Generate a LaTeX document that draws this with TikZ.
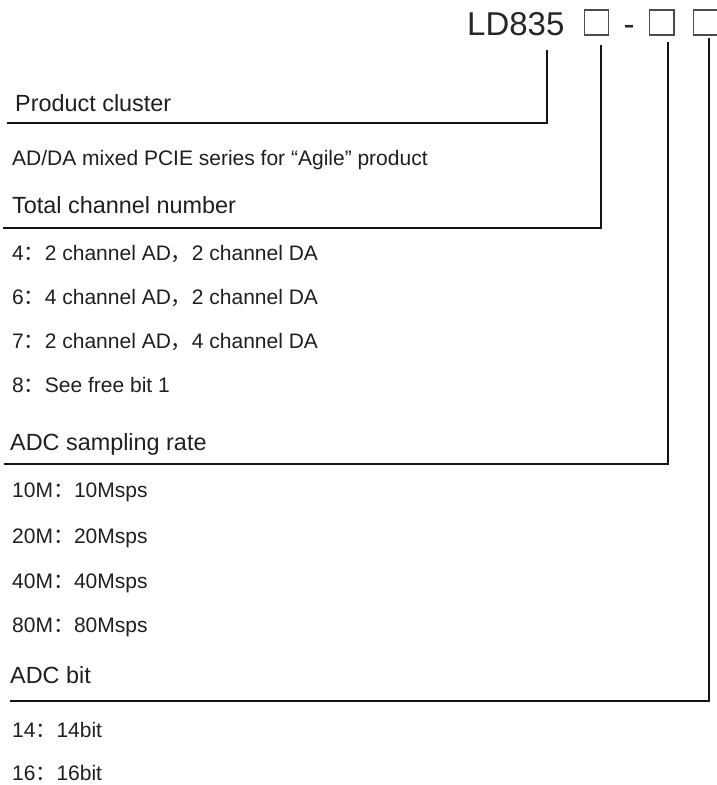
\documentclass[tikz,border=0pt]{standalone}
\usepackage{fontspec}
\setmainfont{Liberation Sans}
\newfontfamily\cjkfont{Noto Sans CJK SC}
\newcommand{\fwcolon}{{\cjkfont ：}}
\newcommand{\fwcomma}{{\cjkfont ，}}
\tikzset{
  head/.style={anchor=base west, inner sep=0pt, text=black!88, font=\fontsize{23.4pt}{28pt}\selectfont},
  item/.style={anchor=base west, inner sep=0pt, text=black!88, font=\fontsize{21pt}{25pt}\selectfont},
  titletext/.style={anchor=base west, inner sep=0pt, text=black!85, font=\fontsize{33pt}{38pt}\selectfont},
  codebox/.style={draw=black!70, line width=1.3pt, minimum width=24.3pt, minimum height=25pt, inner sep=0pt},
  conn/.style={draw=black!92, line width=2pt},
}
\begin{document}
\begin{tikzpicture}[x=1pt,y=-1pt]
\useasboundingbox (0,0) rectangle (717,785);
% title code
\node[titletext] (t) at (467,35) {LD835};
\node[codebox] (b1) at (596.3,22.5) {};
\node[titletext, anchor=base] (dash) at (629,35) {-};
\node[codebox] (b2) at (661.8,22.5) {};
\node[codebox] (b3) at (705.8,22.5) {};
% headings and items
\node[head] (h1) at (15,111) {Product cluster};
\node[item] (i0) at (12,165) {AD/DA mixed PCIE series for “Agile” product};
\node[head] (h2) at (12,213) {Total channel number};
\node[item] (i1) at (12,260) {4\fwcolon 2 channel AD\fwcomma 2 channel DA};
\node[item] (i2) at (12,304.5) {6\fwcolon 4 channel AD\fwcomma 2 channel DA};
\node[item] (i3) at (12,348.5) {7\fwcolon 2 channel AD\fwcomma 4 channel DA};
\node[item] (i4) at (12,392.5) {8\fwcolon See free bit 1};
\node[head] (h3) at (10,450.5) {ADC sampling rate};
\node[item] (i5) at (12,497) {10M\fwcolon 10Msps};
\node[item] (i6) at (12,543) {20M\fwcolon 20Msps};
\node[item] (i7) at (12,588) {40M\fwcolon 40Msps};
\node[item] (i8) at (12,632.5) {80M\fwcolon 80Msps};
\node[head] (h4) at (10,683) {ADC bit};
\node[item] (i9) at (12,737.5) {14\fwcolon 14bit};
\node[item] (i10) at (12,780) {16\fwcolon 16bit};
% connector ends
\coordinate (s1) at (546.7,50);
\coordinate (e1) at (7,123);
\coordinate (s2) at (600.7,45);
\coordinate (e2) at (3,228);
\coordinate (s3) at (667.5,42);
\coordinate (e3) at (4,464);
\coordinate (s4) at (709,38.3);
\coordinate (e4) at (10,701);
\draw[conn] (s1) |- (e1);
\draw[conn] (s2) |- (e2);
\draw[conn] (s3) |- (e3);
\draw[conn] (s4) |- (e4);
\end{tikzpicture}
\end{document}
